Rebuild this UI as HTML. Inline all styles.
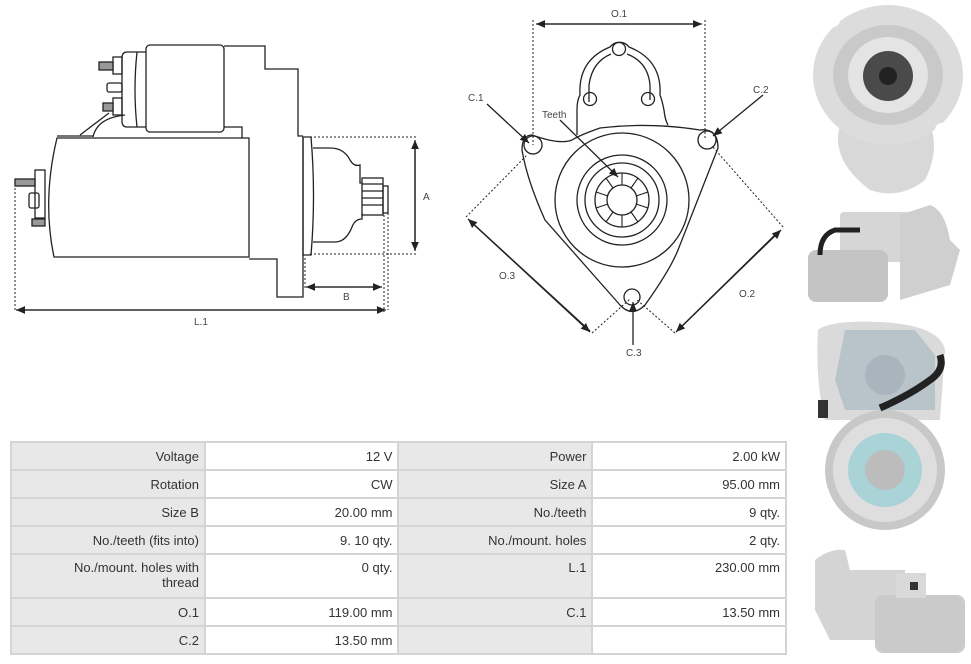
<!DOCTYPE html>
<html><head><meta charset="utf-8"><style>
html,body{margin:0;padding:0;background:#fff;}
body{width:971px;height:664px;position:relative;overflow:hidden;font-family:"Liberation Sans",sans-serif;}
svg{position:absolute;left:0;top:0;}
table{position:absolute;left:10px;top:441px;border-collapse:collapse;width:777px;font-size:13px;color:#333;}
td{border:2px solid #d4d4d4;text-align:right;padding:0 5px;height:26px;vertical-align:middle;}
td.l{background:#e8e8e8;width:184px;}
td.v{background:#fff;width:184px;}
tr.tall td{height:37px;vertical-align:top;padding-top:5px;}
</style></head><body>
<svg width="971" height="664" viewBox="0 0 971 664" fill="none" stroke="#222" stroke-width="1.3">
<defs>
<marker id="ar" markerWidth="8" markerHeight="8" refX="7" refY="4" orient="auto"><path d="M0,1 L7,4 L0,7 z" fill="#222" stroke="none"/></marker>
</defs>
<g>
<rect x="146" y="45" width="78" height="87" rx="4"/>
<path d="M146,52 H127 Q122,52 122,58 V121 Q122,127 127,127 H146"/>
<path d="M137,52 Q133,90 137,127"/>
<rect x="113" y="57" width="9" height="17"/><rect x="99" y="62" width="14" height="8" fill="#999"/>
<rect x="107" y="83" width="15" height="9" rx="2"/>
<rect x="113" y="98" width="9" height="17"/><rect x="103" y="103" width="10" height="8" fill="#999"/>
<path d="M109,113 L80,135 M125,115 Q97,118 93,137"/>
<path d="M57,138 H249 V257 H54 Q42,200 57,138 Z"/>
<path d="M57,136 H93" />
<path d="M224,127 H242 V138"/>
<path d="M224,46 H265 V69 H298 V136 H303 M249,259 H277 V297 H303 V137"/>
<path d="M303,137 H311 Q316,196 311,255 H303 Z"/>
<path d="M313,148 H330 Q344,148 350,160 Q354,167 360,165 V183 H362 M362,213 V219 Q355,219 352,227 Q346,242 335,242 H313"/>
<rect x="362" y="178" width="21" height="37"/>
<path d="M362,184 H383 M362,191 H383 M362,198 H383 M362,205 H383"/>
<rect x="383" y="186" width="5" height="27"/>
<rect x="35" y="170" width="10" height="48"/>
<rect x="29" y="193" width="10" height="15" rx="2"/>
<rect x="15" y="179" width="20" height="7" fill="#999"/>
<rect x="32" y="219" width="13" height="7" fill="#999"/>
<g stroke-dasharray="2,2" stroke-width="1">
<path d="M310,137 H418 M310,254 H418 M384,215 V312 M388,213 V310 M15,180 V310 M305,258 V290"/>
</g>
<path d="M415,250 V140" marker-end="url(#ar)"/>
<path d="M415,142 V251" marker-end="url(#ar)"/>
<path d="M380,287 H306" marker-end="url(#ar)"/>
<path d="M308,287 H382" marker-end="url(#ar)"/>
<path d="M384,310 H16" marker-end="url(#ar)"/>
<path d="M18,310 H386" marker-end="url(#ar)"/>
</g>
<g>
<g stroke-dasharray="2,2" stroke-width="1">
<path d="M533,20 V145 M705,20 V140 M466,217 L527,155 M783,227 L712,146 M592,333 L630,299 M675,333 L636,299"/>
</g>
<path d="M538,24 H702" marker-end="url(#ar)"/>
<path d="M700,24 H536" marker-end="url(#ar)"/>
<path d="M590,331 L468,219" marker-end="url(#ar)"/>
<path d="M470,221 L590,332" marker-end="url(#ar)"/>
<path d="M677,331 L781,230" marker-end="url(#ar)"/>
<path d="M779,231 L676,332" marker-end="url(#ar)"/>
<path d="M577,135 V110 Q577,100 580,95 Q578,60 610,47 A12,12 0 0 1 629,47 Q662,60 660,95 Q662,100 664,110 Q665,120 668,125"/>
<path d="M589,102 V85 Q592,62 611,54 M627,54 Q648,62 650,85 V100"/>
<circle cx="619" cy="49" r="6.5"/><circle cx="590" cy="99" r="6.5"/><circle cx="648" cy="99" r="6.5"/>
<path d="M532,135 Q560,145 572,140 Q580,135 600,128 Q650,122 700,130 Q718,128 718,148 L678,250 Q670,270 645,305 Q632,318 620,305 L545,220 Q527,180 522,150 Q522,135 532,135 Z"/>
<circle cx="533" cy="145" r="9"/><circle cx="707" cy="140" r="9"/><circle cx="632" cy="297" r="8"/>
<circle cx="622" cy="200" r="67"/><circle cx="622" cy="200" r="45"/><circle cx="622" cy="200" r="37"/>
<circle cx="622" cy="200" r="27"/><circle cx="622" cy="200" r="15"/>
<g stroke-width="1.1">
<path d="M622,173 V185 M638,178 L631,188 M648,192 L636,196 M648,208 L636,204 M638,222 L631,212 M622,227 V215 M606,222 L613,212 M596,208 L608,204 M596,192 L608,196 M606,178 L613,188"/>
</g>
<path d="M487,104 L529,143" marker-end="url(#ar)"/>
<path d="M763,95 L713,136" marker-end="url(#ar)"/>
<path d="M633,345 V302" marker-end="url(#ar)"/>
<path d="M560,120 L618,177" marker-end="url(#ar)"/>
</g>
<g fill="#444" stroke="none" font-family="Liberation Sans,sans-serif" font-size="10">
<text x="423" y="200">A</text><text x="343" y="300">B</text><text x="194" y="325">L.1</text>
<text x="611" y="17">O.1</text><text x="468" y="101">C.1</text><text x="753" y="93">C.2</text>
<text x="542" y="118">Teeth</text><text x="499" y="279">O.3</text><text x="739" y="297">O.2</text>
<text x="626" y="356">C.3</text>
</g>
<g stroke="none">
<path d="M840,125 Q830,160 870,190 Q900,200 925,180 Q940,150 930,125 Z" fill="#d8d8d8"/>
<ellipse cx="888" cy="75" rx="75" ry="70" fill="#dcdcdc"/>
<ellipse cx="888" cy="75" rx="55" ry="50" fill="#c9c9c9"/>
<ellipse cx="888" cy="75" rx="40" ry="38" fill="#e4e4e4"/>
<circle cx="888" cy="76" r="25" fill="#4a4a4a"/><circle cx="888" cy="76" r="9" fill="#222"/>
<circle cx="833" cy="20" r="7" fill="#fff"/><circle cx="942" cy="130" r="7" fill="#fff"/>
<rect x="840" y="212" width="80" height="50" rx="4" fill="#d6d6d6"/>
<path d="M900,215 L930,205 Q945,210 950,240 L960,250 L950,285 L900,300 Z" fill="#cfcfcf"/>
<rect x="808" y="250" width="80" height="52" rx="8" fill="#c4c4c4"/>
<path d="M820,255 Q820,235 835,230 L860,230" stroke="#222" stroke-width="5" fill="none"/>
<path d="M818,330 Q830,320 880,322 Q940,325 945,350 L940,420 L825,420 Q815,380 818,330 Z" fill="#dadada"/>
<path d="M845,330 L915,330 L935,355 L935,410 L845,410 L835,380 Z" fill="#b9c3ca"/>
<ellipse cx="885" cy="375" rx="20" ry="20" fill="#a9b4bc"/>
<circle cx="885" cy="470" r="60" fill="#c8c8c8"/><circle cx="885" cy="470" r="52" fill="#dedede"/>
<circle cx="885" cy="470" r="37" fill="#a9d3d6"/><circle cx="885" cy="470" r="20" fill="#bcbcbc"/>
<path d="M880,408 Q910,395 930,380 Q945,370 940,355" stroke="#222" stroke-width="7" fill="none"/>
<rect x="818" y="400" width="10" height="18" fill="#333"/>
<path d="M815,560 Q830,548 845,550 L850,570 L905,570 L905,640 L830,640 L815,610 Z" fill="#d4d4d4"/>
<rect x="875" y="595" width="90" height="58" rx="8" fill="#cacaca"/>
<rect x="896" y="573" width="30" height="25" fill="#d9d9d9"/>
<rect x="910" y="582" width="8" height="8" fill="#333"/>
</g>
</svg>
<table>
<tr><td class="l">Voltage</td><td class="v">12 V</td><td class="l">Power</td><td class="v">2.00 kW</td></tr>
<tr><td class="l">Rotation</td><td class="v">CW</td><td class="l">Size A</td><td class="v">95.00 mm</td></tr>
<tr><td class="l">Size B</td><td class="v">20.00 mm</td><td class="l">No./teeth</td><td class="v">9 qty.</td></tr>
<tr><td class="l">No./teeth (fits into)</td><td class="v">9. 10 qty.</td><td class="l">No./mount. holes</td><td class="v">2 qty.</td></tr>
<tr class="tall"><td class="l">No./mount. holes with<br>thread</td><td class="v">0 qty.</td><td class="l">L.1</td><td class="v">230.00 mm</td></tr>
<tr><td class="l">O.1</td><td class="v">119.00 mm</td><td class="l">C.1</td><td class="v">13.50 mm</td></tr>
<tr><td class="l">C.2</td><td class="v">13.50 mm</td><td class="l"></td><td class="v"></td></tr>
</table>
</body></html>
